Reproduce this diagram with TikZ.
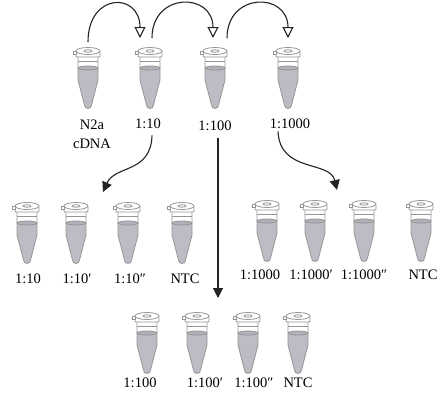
\documentclass[tikz,border=0pt]{standalone}
\usepackage{fontspec}
\setmainfont{Liberation Serif}
\usetikzlibrary{arrows.meta}
\definecolor{tubeline}{RGB}{150,150,150}
\definecolor{liquid}{RGB}{188,189,196}
\definecolor{liquidtop}{RGB}{176,177,185}
\definecolor{ink}{RGB}{35,35,35}
\tikzset{%
    lnk/.style={line width = 1.1pt, draw=ink, -{Triangle[open, length=11pt, width=11pt]}},
    dwn/.style={line width = 1.1pt, draw=ink, -{Triangle[length=10pt, width=10pt]}},
    lab/.style={anchor=base, inner sep=1pt, font=\fontsize{14.5}{19}\selectfont},
    tb/.style={draw=tubeline, line width=0.8pt},
    tube/.pic={
        \path[fill=white] (-10,10) -- (-10,33) -- (-3.5,58) arc (180:0:3.5) -- (10,33) -- (10,10) -- cycle;
        \path[fill=liquid] (-10,21) -- (-10,33) -- (-3.5,58) arc (180:0:3.5) -- (10,33) -- (10,21) -- cycle;
        \draw[tb] (-10,10) -- (-10,33) -- (-3.5,58) arc (180:0:3.5) -- (10,33) -- (10,10);
        \draw[tb, fill=liquidtop] (0,21) ellipse (10 and 2);
        \draw[tb] (-10,14) -- (10,14);
        \draw[tb, fill=white, rounded corners=1pt] (-12,4) rectangle (12,10);
        \draw[tb, fill=white] (-15,4.5) rectangle (-12,7.5);
        \draw[tb, fill=white] (0,4) ellipse (12 and 3.5);
        \draw[tb] (0,4) ellipse (4 and 1.2);
    },
}
\begin{document}
\begin{tikzpicture}[x=1pt, y=-1pt]
    \useasboundingbox (0,0) rectangle (439,400);
    % dilution series
    \foreach \x in {88,150,215,288} \pic at (\x,47) {tube};
    \node[lab, align=center] (n2a) at (92,148) {N2a\\cDNA};
    \node[lab] (d10) at (148,128) {1:10};
    \node[lab] (d100) at (215,130) {1:100};
    \node[lab] (d1000) at (290,128) {1:1000};
    % serial transfer
    \coordinate (s1) at (88,42);   \coordinate (e1) at (140,38);
    \coordinate (s2) at (152,38);  \coordinate (e2) at (213,38);
    \coordinate (s3) at (227,38);  \coordinate (e3) at (288,38);
    \draw [lnk] (s1) .. controls +(0,-50) and +(0,-46) .. (e1);
    \draw [lnk] (s2) .. controls +(0,-46) and +(0,-46) .. (e2);
    \draw [lnk] (s3) .. controls +(0,-46) and +(0,-46) .. (e3);
    % replicates 1:10
    \foreach \x in {27,76,128,182} \pic at (\x,202) {tube};
    \node[lab] (r10a) at (28,283) {1:10};
    \node[lab] (r10b) at (77,283) {1:10′};
    \node[lab] (r10c) at (130,283) {1:10″};
    \node[lab] (r10n) at (185,283) {NTC};
    % replicates 1:1000
    \foreach \x in {267,315,364,421} \pic at (\x,200) {tube};
    \node[lab] (r1000a) at (260,279) {1:1000};
    \node[lab] (r1000b) at (311,279) {1:1000′};
    \node[lab] (r1000c) at (364,279) {1:1000″};
    \node[lab] (r1000n) at (423,279) {NTC};
    % replicates 1:100
    \foreach \x in {147,197,248,298} \pic at (\x,312) {tube};
    \node[lab] (r100a) at (140,387) {1:100};
    \node[lab] (r100b) at (205,387) {1:100′};
    \node[lab] (r100c) at (254,387) {1:100″};
    \node[lab] (r100n) at (298,387) {NTC};
    % into the replicate sets
    \coordinate (p10) at (103,192);
    \coordinate (p100) at (218,298);
    \coordinate (p1000) at (337,190);
    \draw [dwn] ([xshift=4pt,yshift=-6pt]d10.south) .. controls +(-1,38) and +(12,-27) .. (p10);
    \draw [dwn] ([xshift=3pt,yshift=-7pt]d100.south) -- (p100);
    \draw [dwn] ([xshift=-12pt,yshift=-2pt]d1000.south) .. controls +(2,42) and +(-7,-30) .. (p1000);
\end{tikzpicture}
\end{document}
